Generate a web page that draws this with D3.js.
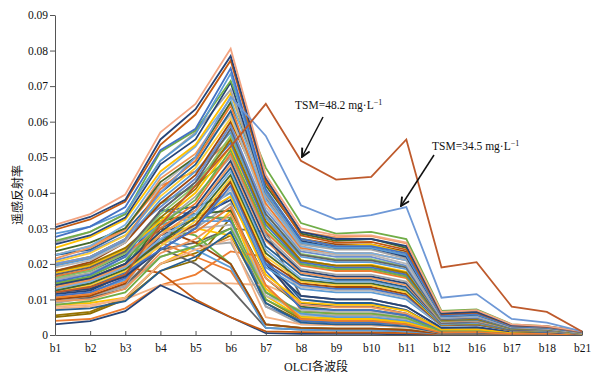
<!DOCTYPE html>
<html><head><meta charset="utf-8">
<script src="https://cdn.jsdelivr.net/npm/d3@7"></script>
<style>body{margin:0;background:#fff}svg{display:block}</style>
</head><body>
<svg id="c" width="597" height="378"></svg>
<script>
const bands = ["b1","b2","b3","b4","b5","b6","b7","b8","b9","b10","b11","b12","b16","b17","b18","b21"];
const yTicks = [0,0.01,0.02,0.03,0.04,0.05,0.06,0.07,0.08,0.09];
const yTickLabels = ["0","0.01","0.02","0.03","0.04","0.05","0.06","0.07","0.08","0.09"];

// mid / low reflectance samples
const lowSpectra = [
[.010,.011,.014,.024,.026,.030,.029,.011,.010,.010,.008,.002,.002,.001,.0008,.0003],
[.009,.0105,.014,.028,.030,.037,.013,.006,.0055,.0055,.0045,.001,.0012,.0006,.0005,.0002],
[.012,.0135,.017,.027,.029,.036,.012,.0055,.005,.005,.004,.001,.001,.0005,.0004,.0002],
[.0085,.009,.0105,.020,.025,.035,.011,.005,.0045,.0045,.0035,.0008,.001,.0005,.0004,.0002],
[.0055,.0065,.0105,.020,.023,.028,.010,.0045,.004,.004,.003,.0007,.0008,.0004,.0003,.0001],
[.005,.006,.010,.018,.021,.033,.009,.004,.0035,.0035,.003,.0006,.0007,.0003,.0003,.0001],
[.016,.017,.021,.033,.032,.032,.012,.006,.005,.005,.004,.001,.001,.0005,.0004,.0002],
[.013,.0145,.018,.035,.034,.032,.008,.004,.0035,.0035,.003,.0006,.0007,.0003,.0003,.0001],
[.014,.0155,.019,.033,.033,.033,.010,.005,.0045,.0045,.0035,.0008,.0009,.0004,.0003,.0001],
[.004,.0045,.0075,.014,.017,.0235,.022,.007,.006,.006,.005,.001,.0012,.0005,.0004,.0002],
[.008,.0085,.010,.014,.0145,.0145,.014,.010,.009,.009,.007,.0015,.0017,.0007,.0006,.0002],
[.003,.0039,.0067,.014,.0095,.005,.0005,.0003,.0003,.0003,.0002,.0001,.0001,.0001,.0001,.0001],
[.0135,.0155,.019,.0175,.010,.005,.001,.0008,.0007,.0007,.0005,.0002,.0002,.0001,.0001,.0001],
[.012,.013,.0165,.026,.022,.018,.003,.002,.0018,.0018,.0015,.0004,.0004,.0002,.0002,.0001],
[.010,.0105,.013,.0245,.020,.013,.002,.0015,.0013,.0013,.001,.0003,.0003,.0002,.0001,.0001],
[.0095,.011,.0135,.022,.025,.026,.008,.003,.0028,.0028,.0022,.0005,.0006,.0003,.0002,.0001],
[.0105,.011,.019,.030,.030,.028,.013,.005,.0045,.0045,.0035,.0008,.0009,.0004,.0003,.0001],
[.0125,.014,.017,.030,.028,.020,.003,.002,.0018,.0018,.0015,.0004,.0004,.0002,.0002,.0001],
[.011,.012,.0155,.027,.024,.019,.002,.0015,.0013,.0013,.001,.0003,.0003,.0002,.0001,.0001],
[.0115,.0125,.017,.028,.033,.038,.020,.009,.008,.008,.006,.0012,.0014,.0006,.0005,.0002],
[.015,.016,.020,.035,.036,.040,.021,.010,.009,.009,.007,.0015,.0017,.0007,.0006,.0002],
[.010,.011,.0145,.030,.026,.020,.003,.002,.0018,.0018,.0014,.0004,.0004,.0002,.0002,.0001],
[.0075,.008,.0105,.020,.024,.027,.005,.003,.0027,.0027,.0022,.0005,.0005,.0003,.0002,.0001],
[.016,.017,.022,.029,.030,.031,.011,.007,.0065,.0065,.005,.001,.0012,.0005,.0004,.0002],
[.0125,.0135,.018,.032,.034,.035,.016,.008,.007,.007,.0055,.0012,.0013,.0006,.0005,.0002],
[.0095,.010,.013,.023,.027,.034,.016,.0085,.0078,.0078,.006,.0013,.0015,.0006,.0005,.0002],
[.011,.012,.016,.027,.031,.039,.018,.0075,.007,.007,.0055,.0012,.0013,.0006,.0005,.0002],
[.0085,.0095,.012,.022,.025,.030,.012,.0065,.006,.006,.0048,.001,.0011,.0005,.0004,.0002],
[.013,.014,.018,.029,.033,.039,.017,.0092,.0085,.0085,.0068,.0015,.0016,.0007,.0005,.0002],
[.007,.0075,.0095,.018,.022,.029,.009,.0035,.003,.003,.0024,.0006,.0006,.0003,.0002,.0001],
[.0105,.0115,.015,.026,.029,.036,.014,.0045,.004,.004,.003,.0007,.0008,.0003,.0003,.0001]
];
const lowColors = ["#636363","#A5A5A5","#B7B7B7","#FFC000","#997300","#8C6D00","#5B9BD5","#4472C4","#70AD47","#ED7D31","#F4B183","#264478","#C55A11","#ED7D31","#636363","#A5A5A5","#FFC000","#70AD47","#5B9BD5","#264478","#255E91","#9E480E","#F4B183","#B7B7B7","#43682B","#F1975A","#4472C4","#70AD47","#FFC000","#255E91","#ED7D31"];

// high reflectance samples
const highSpectra = [
[.031,.034,.0395,.057,.065,.0805,.045,.030,.028,.028,.026,.0065,.007,.003,.0025,.001],
[.0303,.0332,.038,.055,.0635,.0785,.044,.029,.027,.027,.025,.006,.0065,.0028,.0024,.001],
[.0296,.0325,.0375,.0535,.062,.0772,.043,.028,.026,.0262,.024,.0058,.0063,.0027,.0023,.0009],
[.0275,.0305,.036,.052,.058,.075,.041,.027,.025,.025,.023,.0056,.006,.0026,.0022,.0009],
[.0285,.0305,.0345,.049,.0565,.0735,.040,.026,.0245,.0245,.0225,.0054,.0058,.0025,.0021,.0009],
[.0265,.029,.034,.0515,.0575,.0715,.047,.0315,.0285,.029,.027,.0068,.0072,.003,.0025,.001],
[.0255,.028,.033,.048,.055,.071,.040,.0265,.0245,.0245,.022,.0053,.0057,.0024,.002,.0008],
[.026,.029,.034,.049,.057,.069,.039,.0255,.024,.024,.0215,.0052,.0056,.0024,.002,.0008],
[.0245,.0275,.0325,.046,.0535,.068,.0405,.027,.025,.0255,.023,.0055,.006,.0025,.002,.0008],
[.0225,.025,.031,.045,.053,.0665,.038,.025,.023,.023,.021,.005,.0054,.0023,.0019,.0008],
[.0235,.026,.030,.043,.050,.0655,.042,.0285,.0265,.027,.0245,.006,.0064,.0027,.0022,.0009],
[.0215,.0245,.0295,.044,.051,.065,.0435,.029,.0275,.0278,.0258,.0064,.0068,.0028,.0023,.0009],
[.020,.022,.027,.041,.049,.0645,.037,.0245,.023,.023,.021,.005,.0054,.0023,.0019,.0008],
[.0225,.024,.029,.040,.048,.063,.0385,.026,.0245,.0245,.0225,.0054,.0058,.0024,.002,.0008],
[.019,.021,.026,.042,.050,.062,.036,.024,.0225,.0225,.020,.0048,.0052,.0022,.0018,.0007],
[.0205,.023,.028,.039,.047,.061,.038,.026,.0245,.025,.022,.0052,.0056,.0024,.002,.0008],
[.018,.0205,.026,.037,.045,.060,.039,.027,.0255,.0255,.0235,.0056,.006,.0025,.002,.0008],
[.021,.0235,.028,.036,.044,.059,.035,.0235,.022,.022,.0195,.0047,.005,.0022,.0018,.0007],
[.017,.019,.0235,.035,.043,.058,.034,.0225,.021,.021,.019,.0045,.0049,.0021,.0017,.0007],
[.0195,.0215,.0265,.038,.046,.057,.033,.022,.0205,.0205,.0185,.0044,.0048,.002,.0017,.0007],
[.016,.018,.023,.034,.042,.056,.034,.0228,.0213,.0213,.0192,.0046,.005,.0021,.0017,.0007],
[.018,.020,.0245,.033,.041,.055,.032,.021,.0195,.0195,.0175,.0042,.0045,.0019,.0016,.0006],
[.015,.017,.022,.035,.043,.054,.031,.0205,.019,.019,.017,.0041,.0044,.0019,.0015,.0006],
[.0175,.0195,.024,.032,.040,.053,.0315,.021,.0195,.0198,.0178,.0043,.0046,.002,.0016,.0006],
[.0145,.0165,.021,.031,.038,.052,.030,.020,.0185,.0185,.0165,.004,.0043,.0018,.0015,.0006],
[.0165,.0185,.023,.030,.037,.051,.029,.0195,.018,.018,.016,.0039,.0042,.0018,.0015,.0006],
[.0155,.0175,.022,.031,.039,.050,.028,.0185,.017,.017,.015,.0036,.0039,.0017,.0014,.0005],
[.014,.016,.020,.029,.036,.049,.027,.018,.0165,.0165,.0145,.0035,.0038,.0016,.0013,.0005],
[.0135,.0155,.0195,.028,.035,.048,.0265,.0175,.016,.016,.014,.0034,.0037,.0016,.0013,.0005],
[.0165,.018,.0225,.030,.035,.047,.025,.017,.0155,.0155,.0135,.0033,.0036,.0015,.0013,.0005],
[.013,.015,.019,.027,.034,.046,.024,.016,.015,.015,.013,.0031,.0034,.0015,.0012,.0005],
[.0125,.0145,.0185,.026,.033,.045,.023,.0155,.0145,.0145,.0125,.003,.0033,.0014,.0012,.0005],
[.012,.014,.018,.025,.032,.044,.022,.015,.014,.014,.012,.0029,.0032,.0014,.0011,.0004],
[.0145,.016,.020,.026,.031,.043,.021,.0145,.0135,.0135,.0115,.0028,.003,.0013,.0011,.0004],
[.0125,.014,.0175,.024,.030,.042,.020,.014,.013,.013,.011,.0027,.003,.0013,.0011,.0004],
[.0135,.015,.019,.025,.031,.041,.020,.0135,.0125,.0125,.0105,.0026,.0029,.0012,.001,.0004],
[.018,.0195,.024,.031,.034,.040,.019,.013,.012,.012,.010,.0025,.0028,.0012,.001,.0004],
[.012,.013,.0165,.024,.030,.0435,.020,.011,.010,.010,.008,.002,.0022,.001,.0008,.0003],
[.0225,.025,.030,.042,.046,.055,.033,.021,.0195,.0195,.017,.004,.0044,.0019,.0016,.0006],
[.0195,.022,.027,.037,.042,.050,.030,.020,.0185,.0185,.0165,.004,.0043,.0018,.0015,.0006]
];
const highColors = ["#F4A582","#264478","#C55A11","#4472C4","#5B9BD5","#70AD47","#264478","#A5A5A5","#FFC000","#7CAFDD","#43682B","#F1975A","#ED7D31","#255E91","#B7B7B7","#FFCD33","#9E480E","#698ED0","#636363","#5B9BD5","#8CC168","#997300","#4472C4","#FFC000","#70AD47","#ED7D31","#A5A5A5","#264478","#F1975A","#255E91","#7CAFDD","#43682B","#FFCD33","#9E480E","#4472C4","#B7B7B7","#5B9BD5","#264478","#ED7D31","#70AD47"];

// highlighted samples
const tsm482 = [.012,.0135,.017,.031,.042,.053,.065,.049,.0437,.0445,.055,.019,.0205,.008,.0065,.001];
const tsm345 = [.020,.022,.027,.040,.050,.067,.056,.0365,.0325,.0337,.036,.0105,.0115,.0045,.0035,.001];

const svg = d3.select("#c");
const x = d3.scalePoint().domain(bands).range([55, 582]);
const y = d3.scaleLinear().domain([0, 0.09]).range([335, 15]);
const line = d3.line().x((d,i)=>x(bands[i])).y(d=>y(d));

const g = svg.append("g");
const all = [];
lowSpectra.forEach((s,i)=>all.push({v:s,c:lowColors[i]}));
highSpectra.slice().reverse().forEach((s,i)=>all.push({v:s,c:highColors[highSpectra.length-1-i]}));
g.selectAll("path.s").data(all).join("path")
  .attr("class","s").attr("d",d=>line(d.v)).attr("fill","none")
  .attr("stroke",d=>d.c).attr("stroke-width",1.8).attr("stroke-linejoin","miter");
g.append("path").attr("d",line(tsm345)).attr("fill","none").attr("stroke","#6E98D6").attr("stroke-width",1.8);
g.append("path").attr("d",line(tsm482)).attr("fill","none").attr("stroke","#BE5A2C").attr("stroke-width",1.8);

const font = "'Liberation Serif','Times New Roman',serif";
// y axis
const ya = svg.append("g").attr("transform","translate(55,0)")
  .call(d3.axisLeft(y).tickValues(yTicks).tickFormat((d,i)=>yTickLabels[i]).tickSize(5).tickSizeOuter(0));
ya.select(".domain").attr("stroke","#555");
ya.selectAll(".tick line").attr("stroke","#555");
ya.selectAll("text").attr("font-family",font).attr("font-size","11.5px").attr("fill","#111").attr("x",-7);
// x axis
const xa = svg.append("g").attr("transform","translate(0,335)")
  .call(d3.axisBottom(x).tickSize(-4).tickSizeOuter(0));
xa.select(".domain").attr("stroke","#555");
xa.selectAll(".tick line").attr("stroke","#555");
xa.selectAll("text").attr("font-family",font).attr("font-size","11.5px").attr("fill","#111").attr("y",9);

svg.append("text").attr("transform","translate(22,195) rotate(-90)")
  .attr("text-anchor","middle").attr("font-family","'Noto Sans CJK SC'").attr("font-size","12px").attr("fill","#111").text("遥感反射率");
svg.append("text").attr("x",316).attr("y",371).attr("text-anchor","middle")
  .attr("font-family",font+",'Noto Sans CJK SC'").attr("font-size","12px").attr("fill","#111").text("OLCI各波段");

// annotations
const defs = svg.append("defs");
defs.append("marker").attr("id","ah").attr("viewBox","0 0 10 10").attr("refX",9).attr("refY",5)
  .attr("markerWidth",7).attr("markerHeight",7).attr("orient","auto")
  .append("path").attr("d","M1,1 L9,5 L1,9").attr("fill","none").attr("stroke","#111").attr("stroke-width",1.8);
function note(tx,ty,label,x1,y1,x2,y2){
  const t = svg.append("text").attr("x",tx).attr("y",ty).attr("font-family",font).attr("font-size","11.5px").attr("fill","#111");
  t.append("tspan").text(label);
  t.append("tspan").attr("font-size","8px").attr("dy",-4).text("−1");
  svg.append("line").attr("x1",x1).attr("y1",y1).attr("x2",x2).attr("y2",y2)
    .attr("stroke","#111").attr("stroke-width",1.5).attr("marker-end","url(#ah)");
}
note(295,109,"TSM=48.2 mg·L",323,117,302,157);
note(432,150,"TSM=34.5 mg·L",434,155,401,206);
</script>
</body></html>
